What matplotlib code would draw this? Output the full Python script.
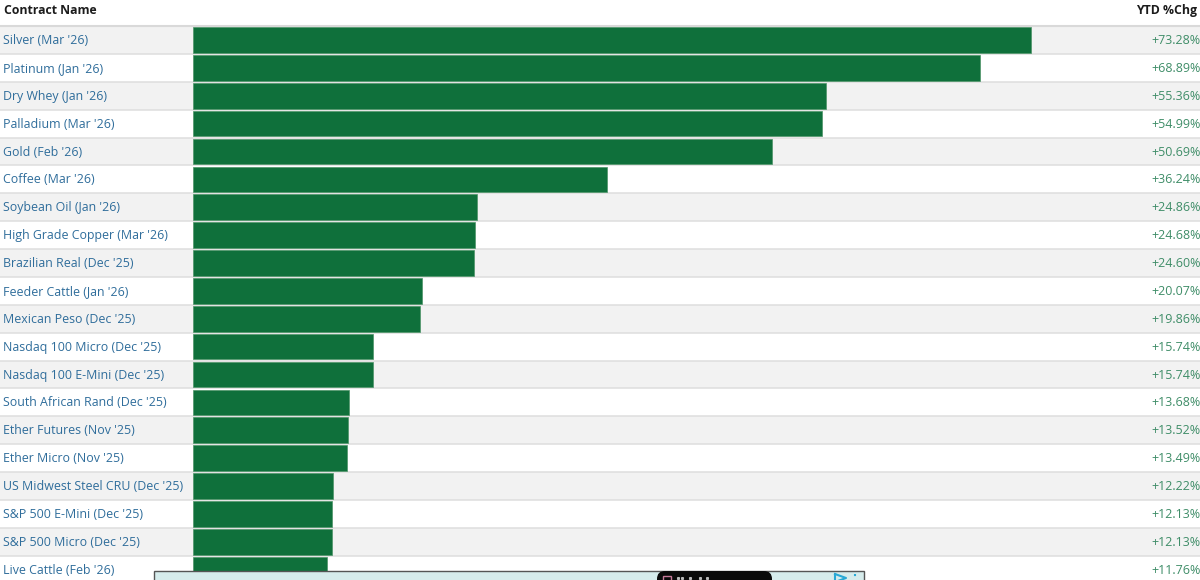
import matplotlib
matplotlib.use("Agg")
import matplotlib.pyplot as plt
from matplotlib.patches import Rectangle, FancyBboxPatch
from matplotlib.transforms import blended_transform_factory

plt.rcParams['font.family'] = ['Open Sans', 'DejaVu Sans']

contracts = ["Silver (Mar '26)", "Platinum (Jan '26)", "Dry Whey (Jan '26)", "Palladium (Mar '26)",
             "Gold (Feb '26)", "Coffee (Mar '26)", "Soybean Oil (Jan '26)", "High Grade Copper (Mar '26)",
             "Brazilian Real (Dec '25)", "Feeder Cattle (Jan '26)", "Mexican Peso (Dec '25)",
             "Nasdaq 100 Micro (Dec '25)", "Nasdaq 100 E-Mini (Dec '25)", "South African Rand (Dec '25)",
             "Ether Futures (Nov '25)", "Ether Micro (Nov '25)", "US Midwest Steel CRU (Dec '25)",
             "S&P 500 E-Mini (Dec '25)", "S&P 500 Micro (Dec '25)", "Live Cattle (Feb '26)"]
ytd_chg = [73.28, 68.89, 55.36, 54.99, 50.69, 36.24, 24.86, 24.68, 24.60, 20.07,
           19.86, 15.74, 15.74, 13.68, 13.52, 13.49, 12.22, 12.13, 12.13, 11.76]

W, H = 1200, 580
TOP = 26.0        # header line, px
ROW_H = 27.88     # px per row
X0 = 193.0        # bar baseline, px
PX_PER_PCT = 11.43

fig = plt.figure(figsize=(W / 100, H / 100), dpi=100)
ax = fig.add_axes([0, 0, 1, 1])
ax.set_xlim(-X0 / PX_PER_PCT, (W - X0) / PX_PER_PCT)
ax.set_ylim((H - TOP) / ROW_H - 0.5, -TOP / ROW_H - 0.5)
ax.axis('off')

trans = blended_transform_factory(ax.transAxes, ax.transData)

# row stripes and separators
ax.axhline(-0.5, color='#d9d9d9', lw=1.5, zorder=1)
for i in range(len(contracts)):
    if i % 2 == 0:
        ax.axhspan(i - 0.5, i + 0.5, color='#f2f2f2', lw=0, zorder=0)
    ax.axhline(i + 0.5, color='#dedede', lw=1.1, zorder=1)

ax.barh(range(len(contracts)), ytd_chg, height=0.92, color='#0f703b', edgecolor='#4d9468',
        linewidth=0.5, zorder=2)

for i, name in enumerate(contracts):
    ax.text(3 / W, i + 0.02, name, transform=trans, fontsize=8.95, color='#2f6d9b', va='center', ha='left')
    ax.text(1200.5 / W, i + 0.02, f"+{ytd_chg[i]:.2f}%", transform=trans, fontsize=9.0, color='#3f8d68',
            va='center', ha='right')

# header
ax_h = fig.add_axes([0, 0, 1, 1])
ax_h.set_xlim(0, W)
ax_h.set_ylim(H, 0)
ax_h.axis('off')
ax_h.patch.set_alpha(0)
ax_h.text(4, 10.5, "Contract Name", fontsize=8.8, fontweight='bold', color='#1c1c1c', va='center')
ax_h.text(1197, 10.5, "YTD %Chg", fontsize=8.8, fontweight='bold', color='#1c1c1c', va='center', ha='right')

# ad banner poking in at the bottom
ax_h.add_patch(Rectangle((153.5, 571), 710, 12, facecolor='#d6ecec', edgecolor='#555555', lw=1, zorder=5))
ax_h.add_patch(FancyBboxPatch((657, 571), 115, 24, boxstyle='round,pad=0,rounding_size=8',
                              facecolor='#0a0a0a', edgecolor='none', zorder=6))
ax_h.plot([835, 835, 846, 835], [574, 582, 578, 574], color='#29a9d6', lw=1.5, zorder=7)
ax_h.plot([855, 855], [574, 578], color='#29a9d6', lw=1.5, ls=(0, (1, 1.5)), zorder=7)
ax_h.add_patch(Rectangle((663, 576), 8, 8, facecolor='#0a0a0a', edgecolor='#c77a9a', lw=1, zorder=7))
ax_h.plot([678, 682, 690, 700, 707], [578] * 5, ls='none', marker='s', ms=1.2, color='#bbbbbb', zorder=7)

fig.savefig('out.png', dpi=100)
